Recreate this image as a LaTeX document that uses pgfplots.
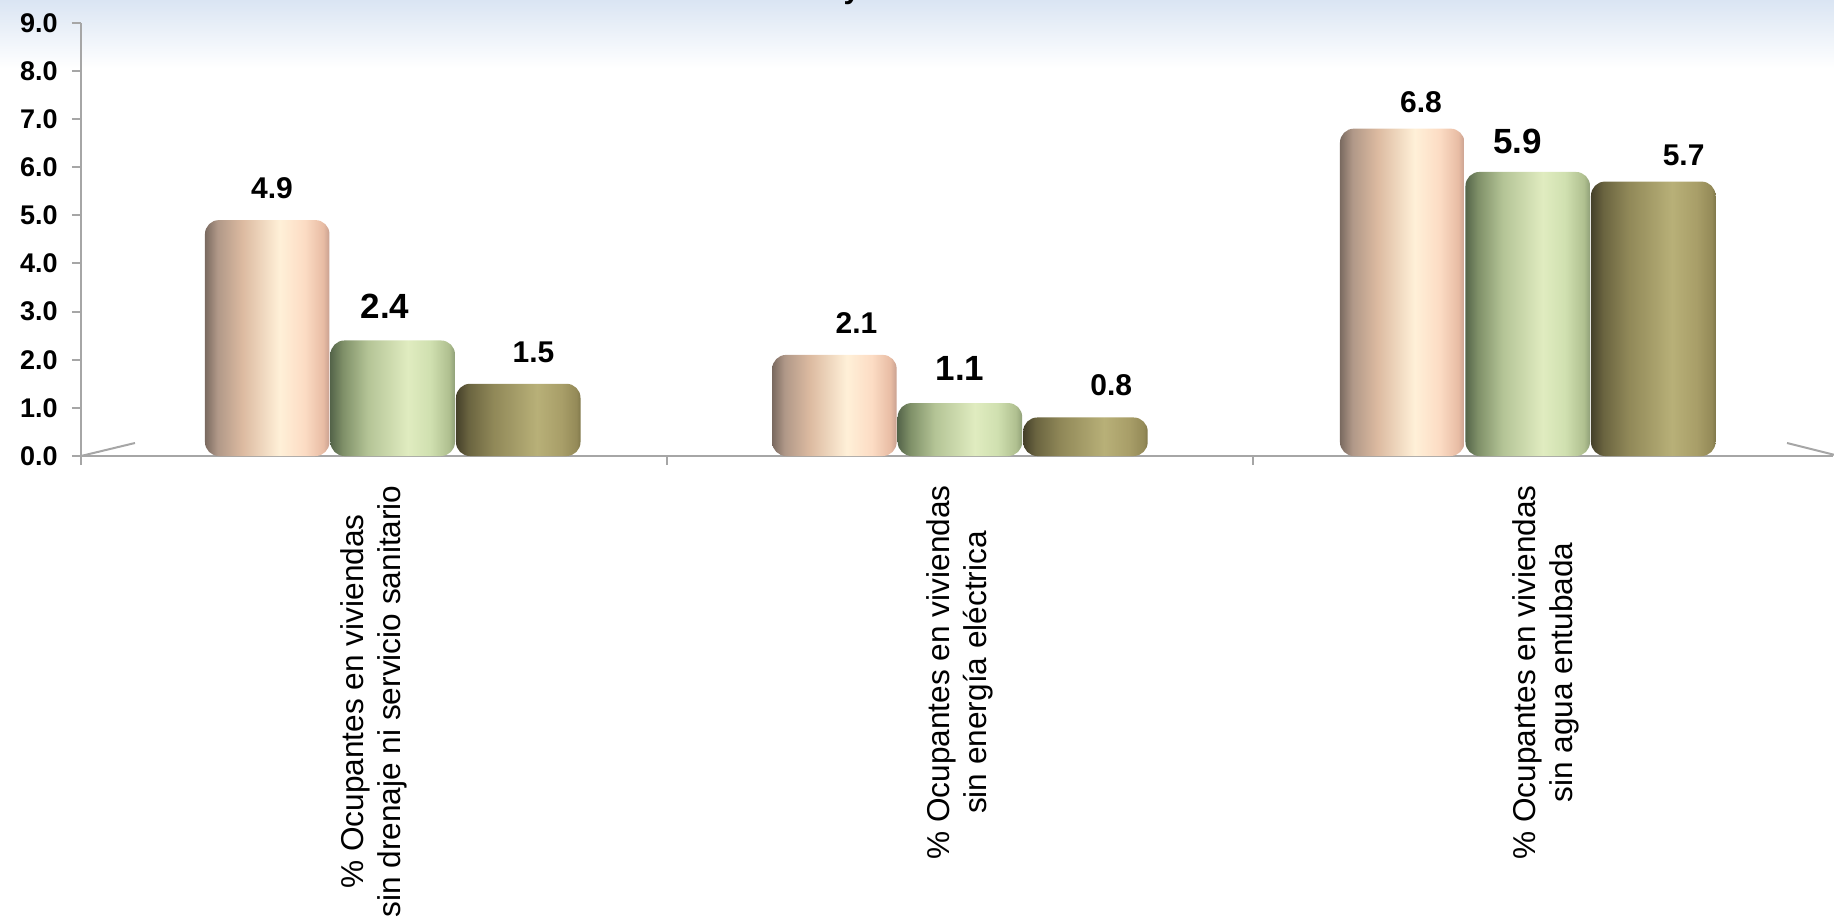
\documentclass[border=0pt]{standalone}
\usepackage{fontspec}
\setmainfont{Liberation Sans}
\usepackage{pgfplots}
\pgfplotsset{compat=1.18}

\definecolor{axisgray}{HTML}{A6A6A6}
\definecolor{bgblue}{HTML}{DAE5F3}
% pink cylinder
\definecolor{pA}{HTML}{7A6A60}\definecolor{pB}{HTML}{B09888}\definecolor{pC}{HTML}{DCBAA0}
\definecolor{pD}{HTML}{FFF0D8}\definecolor{pE}{HTML}{FCDCC4}\definecolor{pF}{HTML}{E8BCA4}\definecolor{pG}{HTML}{C8A090}
% green cylinder
\definecolor{gA}{HTML}{55654A}\definecolor{gB}{HTML}{7F9068}\definecolor{gC}{HTML}{B4C496}
\definecolor{gD}{HTML}{E0ECC0}\definecolor{gE}{HTML}{D0E0B0}\definecolor{gF}{HTML}{B0C090}\definecolor{gG}{HTML}{90A078}
% olive cylinder
\definecolor{oA}{HTML}{45402A}\definecolor{oB}{HTML}{6A6440}\definecolor{oC}{HTML}{908858}
\definecolor{oD}{HTML}{B8B078}\definecolor{oE}{HTML}{A89E68}\definecolor{oF}{HTML}{948A58}\definecolor{oG}{HTML}{80784A}

\pgfdeclarehorizontalshading{pinkbar}{100bp}{color(0bp)=(pA); color(25bp)=(pA); color(30bp)=(pB); color(40bp)=(pC); color(55bp)=(pD); color(65bp)=(pE); color(72.5bp)=(pF); color(75bp)=(pG); color(100bp)=(pG)}
\pgfdeclarehorizontalshading{greenbar}{100bp}{color(0bp)=(gA); color(25bp)=(gA); color(30bp)=(gB); color(40bp)=(gC); color(56bp)=(gD); color(65bp)=(gE); color(72.5bp)=(gF); color(75bp)=(gG); color(100bp)=(gG)}
\pgfdeclarehorizontalshading{olivebar}{100bp}{color(0bp)=(oA); color(25bp)=(oA); color(30bp)=(oB); color(40bp)=(oC); color(57.5bp)=(oD); color(67.5bp)=(oE); color(73.5bp)=(oF); color(75bp)=(oG); color(100bp)=(oG)}

\pgfplotstableread{
x val
0 4.9
1 2.1
2 6.8
}\serieA
\pgfplotstableread{
x val
0 2.4
1 1.1
2 5.9
}\serieB
\pgfplotstableread{
x val
0 1.5
1 0.8
2 5.7
}\serieC

% one bar: #1 shading, #2 table, #3 row index, #4 bar shift, #5 label size, #6 label xshift, #7 label yshift
\newcommand{\onebar}[7]{%
\addplot[shading=#1, draw=none, rounded corners=7pt, bar shift=#4,
  x filter/.code={\ifnum\coordindex=#3\relax\else\def\pgfmathresult{}\fi},
  nodes near coords={\pgfmathprintnumber[fixed,fixed zerofill,precision=1,assume math mode=true]{\pgfplotspointmeta}},
  every node near coord/.append style={font=\bfseries\fontsize{#5}{20}\selectfont, inner sep=0pt, xshift=#6, yshift=#7, black}]
  table[x=x, y=val] {#2};}

\begin{document}
\begin{tikzpicture}
% background band at top
\fill[top color=bgblue, bottom color=white] (-40.5pt,228pt) rectangle (876.5pt,194pt);
\node[font=\bfseries\fontsize{15}{18}\selectfont, anchor=base, inner sep=0pt] at (385.5pt,228.6pt) {y};
\begin{axis}[
  at={(0,0)}, anchor=south west, scale only axis,
  width=876pt, height=216.65pt,
  xmin=-0.5, xmax=2.49, ymin=0, ymax=9,
  axis lines=left,
  axis line style={-, draw=axisgray, line width=1pt},
  ybar, bar width=0.2125,
  xtick={-0.5,0.5,1.5}, xticklabels={},
  extra x ticks={0,1,2},
  extra x tick labels={{\% Ocupantes en viviendas\\sin drenaje ni servicio sanitario},
                       {\% Ocupantes en viviendas\\sin energía eléctrica},
                       {\% Ocupantes en viviendas\\sin agua entubada}},
  extra x tick style={major tick length=0pt,
     xticklabel style={rotate=90, anchor=east, align=center, inner sep=0pt, xshift=-14.5pt,
       font=\fontsize{15.8}{18.7}\selectfont}},
  ytick={0,1,...,9},
  tick align=outside, major tick length=4.5pt,
  tick style={draw=axisgray, line width=1pt},
  yticklabel style={font=\bfseries\fontsize{13.5}{16}\selectfont, inner sep=0pt, xshift=-7pt},
  /pgf/number format/.cd, fixed, fixed zerofill, precision=1, assume math mode=true,
  /pgfplots/.cd,
  clip=false,
]
% group 1
\onebar{pinkbar}{\serieA}{0}{-0.1822}{15}{2.4pt}{10.5pt}
\onebar{greenbar}{\serieB}{0}{0.032}{17.5}{-3.8pt}{11pt}
\onebar{olivebar}{\serieC}{0}{0.2462}{15}{7.6pt}{10.5pt}
% group 2
\onebar{pinkbar}{\serieA}{1}{-0.2142}{15}{11pt}{10.5pt}
\onebar{greenbar}{\serieB}{1}{0}{17.5}{0pt}{11pt}
\onebar{olivebar}{\serieC}{1}{0.2142}{15}{12.9pt}{10.5pt}
% group 3
\onebar{pinkbar}{\serieA}{2}{-0.2452}{15}{9.4pt}{7.5pt}
\onebar{greenbar}{\serieB}{2}{-0.031}{17.5}{-5pt}{8.7pt}
\onebar{olivebar}{\serieC}{2}{0.1832}{15}{15.2pt}{7.5pt}
\end{axis}
% perspective floor edges
\draw[axisgray, line width=1pt] (0pt,0pt) -- (27pt,6.5pt);
\draw[axisgray, line width=1pt] (853pt,6.5pt) -- (877pt,0.5pt);
\pgfresetboundingbox
\path[use as bounding box] (-40.5pt,-231.5pt) rectangle (876.5pt,228pt);
\end{tikzpicture}
\end{document}
